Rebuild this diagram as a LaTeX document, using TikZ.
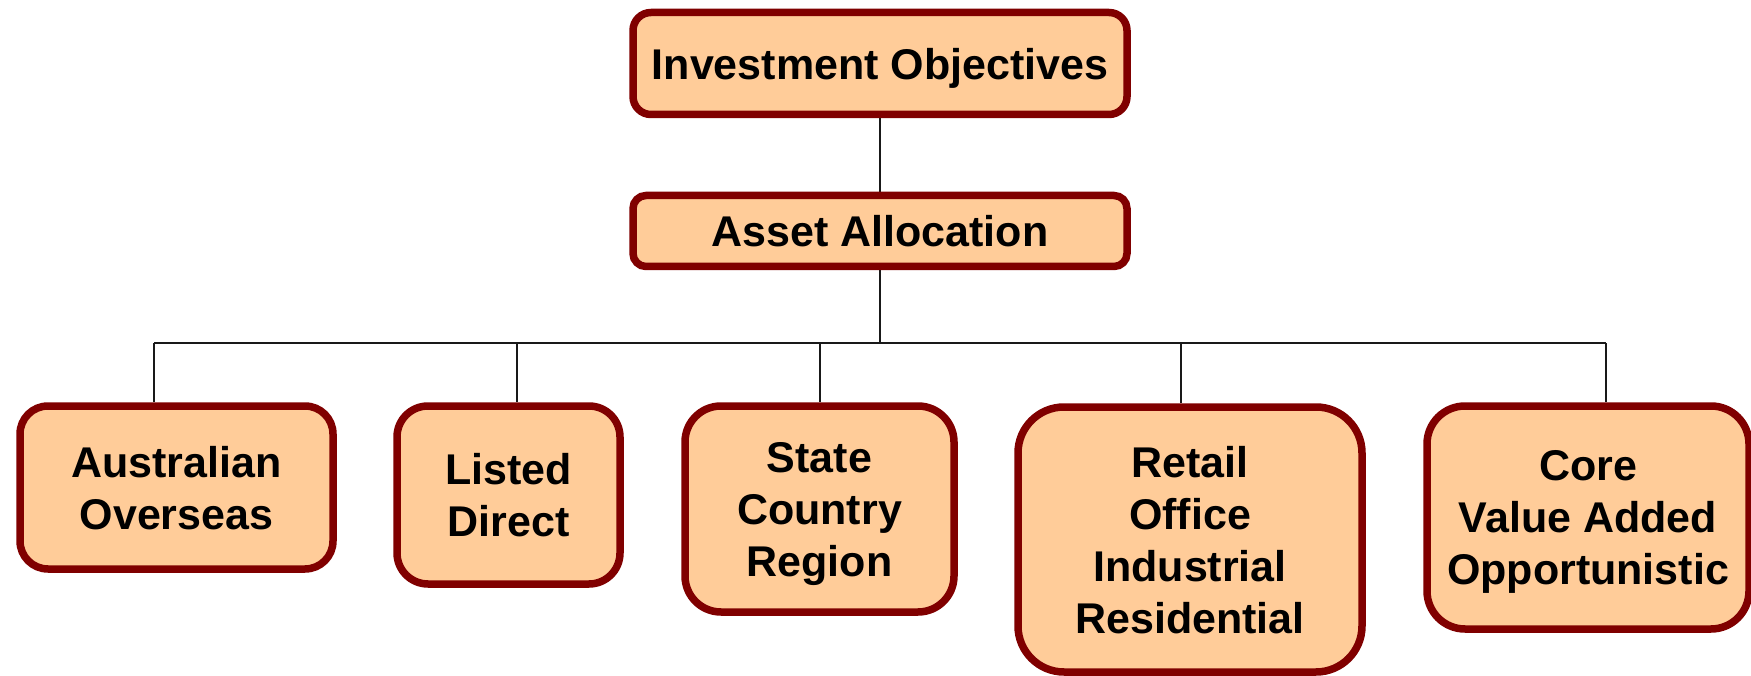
\documentclass[tikz,border=0pt]{standalone}
\usepackage{fontspec}
\setmainfont{Liberation Sans}
\usetikzlibrary{backgrounds}
\definecolor{boxfill}{HTML}{FFCC99}
\definecolor{boxline}{HTML}{800000}
\begin{document}
\begin{tikzpicture}[x=1pt,y=-1pt,
  box/.style={draw=boxline, fill=boxfill, line width=7.5pt, align=center,
    inner sep=0pt, text depth=0pt, text=black,
    font=\bfseries\fontsize{43}{52}\selectfont},
  link/.style={draw=black!90, line width=1.5pt}]
\useasboundingbox (0,0) rectangle (1751,676);

% top levels
\node[box, minimum width=494pt, minimum height=102pt, rounded corners=18pt]
  (inv) at (880,63.5) {Investment Objectives};
\node[box, minimum width=494pt, minimum height=71pt, rounded corners=13pt]
  (asset) at (880,231) {Asset Allocation};

% bottom level
\node[box, minimum width=313pt, minimum height=163pt, rounded corners=28pt]
  (aus) at (176.5,487.5) {Australian\\Overseas};
\node[box, minimum width=223pt, minimum height=178pt, rounded corners=31pt]
  (listed) at (508.5,495) {Listed\\Direct};
\node[box, minimum width=269pt, minimum height=206pt, rounded corners=36pt]
  (state) at (819.5,509) {State\\Country\\Region};
\node[box, minimum width=344pt, minimum height=265pt, rounded corners=46pt]
  (retail) at (1190,539.5) {Retail\\Office\\Industrial\\Residential};
\node[box, minimum width=322pt, minimum height=223pt, rounded corners=38pt]
  (core) at (1588,517.5) {Core\\Value Added\\Opportunistic};

% connectors
\coordinate (b1) at (154,343);
\coordinate (b2) at (517,343);
\coordinate (b3) at (820,343);
\coordinate (b4) at (1181,343);
\coordinate (b5) at (1606,343);
\begin{pgfonlayer}{background}
  \draw[link] (inv.south) -- (asset.north);
  \draw[link] (asset.south) -- (asset.south |- b1);
  \draw[link] (b1) -- (b5);
  \draw[link] (b1) -- (b1 |- aus.north);
  \draw[link] (b2) -- (b2 |- listed.north);
  \draw[link] (b3) -- (b3 |- state.north);
  \draw[link] (b4) -- (b4 |- retail.north);
  \draw[link] (b5) -- (b5 |- core.north);
\end{pgfonlayer}
\end{tikzpicture}
\end{document}
